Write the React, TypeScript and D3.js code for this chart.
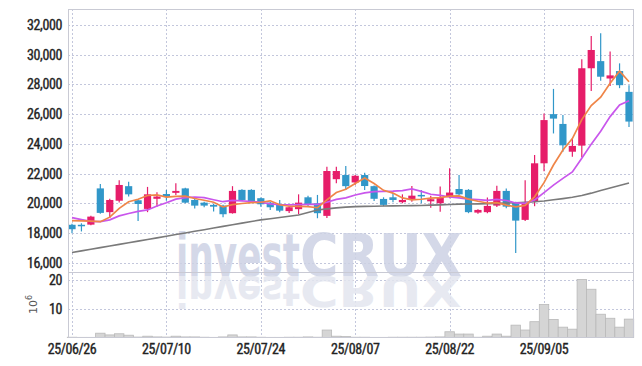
import React from "react";
import * as d3 from "d3";

const dates = [
  "25/06/26","25/06/27","25/06/30","25/07/01","25/07/02","25/07/03","25/07/04","25/07/07","25/07/08","25/07/09",
  "25/07/10","25/07/11","25/07/14","25/07/15","25/07/16","25/07/17","25/07/18","25/07/21","25/07/22","25/07/23",
  "25/07/24","25/07/25","25/07/28","25/07/29","25/07/30","25/07/31","25/08/01","25/08/04","25/08/05","25/08/06",
  "25/08/07","25/08/08","25/08/11","25/08/12","25/08/13","25/08/14","25/08/18","25/08/19","25/08/20","25/08/21",
  "25/08/22","25/08/25","25/08/26","25/08/27","25/08/28","25/08/29","25/09/01","25/09/02","25/09/03","25/09/04",
  "25/09/05","25/09/08","25/09/09","25/09/10","25/09/11","25/09/12","25/09/15","25/09/16","25/09/17","25/09/18",
];

const opens = [
  18550, 18550, 18560, 21000, 19400, 20170, 21150, 20200, 19620, 20300,
  20620, 20700, 21000, 20220, 20040, 19890, 19840, 19330, 20900, 20900,
  20340, 20040, 19930, 19470, 19600, 20400, 20000, 19150, 21620, 21900,
  21400, 21900, 21150, 20290, 20400, 20070, 20290, 20560, 20130, 20000,
  20450, 20960, 20900, 19370, 19400, 19840, 20830, 20040, 18880, 20110,
  22690, 26000, 25340, 23470, 23880, 29090, 29570, 28400, 28900, 27500,
];
const highs = [
  18620, 18650, 19150, 21300, 20300, 21550, 21450, 20250, 21100, 20740,
  20900, 21350, 21050, 20300, 20100, 19950, 19900, 21150, 20950, 20950,
  20380, 20080, 20220, 19800, 20600, 20500, 20560, 22450, 22450, 22500,
  21900, 22050, 21200, 20400, 20670, 20600, 21160, 20900, 20500, 21120,
  22360, 21900, 20950, 19600, 20380, 21180, 21000, 20100, 21550, 23250,
  26050, 27700, 25940, 24330, 29700, 31260, 31440, 30220, 29420, 27950,
];
const lows = [
  17980, 18100, 18520, 19300, 19000, 20050, 20450, 18800, 19400, 19770,
  20170, 20560, 20000, 19650, 19730, 19440, 19060, 19300, 20150, 20050,
  19770, 19550, 19400, 19350, 19260, 19800, 18990, 19000, 21350, 20900,
  21250, 20900, 20150, 19800, 20070, 20000, 20100, 20000, 19700, 19430,
  20340, 20550, 19330, 19300, 19330, 19750, 19660, 16650, 18800, 19800,
  22150, 24700, 23470, 23130, 23100, 27560, 28250, 27900, 27750, 25140,
];
const closes = [
  18250, 18450, 19100, 19350, 20220, 21230, 20600, 19950, 20600, 20450,
  20450, 20830, 20040, 19840, 19840, 19770, 19260, 20830, 20220, 20100,
  19930, 19730, 19500, 19730, 20040, 19890, 19330, 22170, 22170, 21150,
  21850, 21160, 20300, 19890, 20220, 20220, 20510, 20500, 20270, 20400,
  20720, 20600, 19400, 19550, 19820, 20830, 19770, 18830, 20040, 22690,
  25600, 25700, 23900, 23860, 29090, 30320, 28520, 28610, 27950, 25500,
];
// volume in millions of shares
const volumes = [
  0.1, 0.05, 0.05, 1.5, 0.9, 1.3, 0.8, 0.15, 0.45, 0.2,
  0.15, 0.45, 0.2, 0.2, 0.1, 0.05, 0.2, 0.9, 0.2, 0.2,
  0.1, 0.05, 0.05, 0.1, 0.1, 0.2, 0.1, 2.6, 0.45, 0.35,
  0.1, 0.1, 0.05, 0.05, 0.1, 0.1, 0.1, 0.1, 0.15, 0.2,
  2.0, 1.2, 1.2, 0.1, 0.45, 1.2, 0.45, 4.3, 2.6, 5.5,
  11.5, 6.3, 3.6, 2.9, 20.2, 16.8, 8.1, 6.7, 3.6, 6.4,
];
const ma5 = [
  18830, 18810, 18790, 18760, 19064, 19660, 20100, 20270, 20520, 20566,
  20410, 20456, 20474, 20322, 20200, 20064, 19750, 19908, 19984, 20036,
  20068, 20162, 19896, 19798, 19786, 19778, 19698, 20232, 20720, 20942,
  21334, 21700, 21326, 20870, 20684, 20358, 20228, 20268, 20344, 20380,
  20480, 20498, 20278, 20134, 20018, 20040, 19874, 19760, 19858, 20432,
  21386, 22572, 23586, 24350, 25630, 26574, 27138, 28080, 28898, 28180,
];
const ma10 = [
  19030, 18900, 18780, 18760, 18880, 19150, 19310, 19450, 19550, 19815,
  20035, 20278, 20372, 20421, 20383, 20237, 20103, 20191, 20153, 20118,
  20066, 19956, 19902, 19891, 19911, 19923, 19930, 20064, 20259, 20364,
  20556, 20699, 20779, 20795, 20813, 20846, 20964, 20797, 20607, 20532,
  20419, 20363, 20273, 20239, 20199, 20260, 20186, 20019, 19996, 20225,
  20713, 21223, 21673, 22104, 23031, 23980, 24855, 25833, 26624, 26905,
];
const ma60 = [
  16680, 16790, 16900, 17010, 17120, 17230, 17340, 17450, 17560, 17670,
  17780, 17890, 18000, 18110, 18220, 18330, 18440, 18550, 18660, 18770,
  18880, 18960, 19040, 19120, 19210, 19380, 19550, 19620, 19690, 19740,
  19770, 19790, 19800, 19810, 19820, 19830, 19840, 19850, 19870, 19890,
  19920, 19940, 19950, 19960, 19970, 19990, 20010, 20030, 20060, 20100,
  20150, 20230, 20310, 20400, 20520, 20680, 20860, 21020, 21190, 21360,
];

const priceTicks = [16000, 18000, 20000, 22000, 24000, 26000, 28000, 30000, 32000];
const volumeTicks = [10, 20];
const dateTicks = ["25/06/26", "25/07/10", "25/07/24", "25/08/07", "25/08/22", "25/09/05"];

const UP = "#e61d69";
const DOWN = "#3197c9";
const GRID = "#c3c7dc";
const FRAME = "#c9cad4";
const FONT = "'Liberation Sans Narrow', 'Roboto Condensed', 'Liberation Sans', sans-serif";

export default function App() {
  const W = 642, H = 366;
  const L = 68, R = 633, T = 9, MID = 272, B = 337.5;
  const x = d3.scalePoint<string>().domain(dates).range([72, 629]);
  const y = d3.scaleLinear().domain([15370, 33080]).range([MID, T]);
  const yv = d3.scaleLinear().domain([0, 22.8]).range([B, MID]);
  const fmt = d3.format(",");

  const line = (vals: number[]) =>
    d3.line<number>().x((_, i) => x(dates[i]) as number).y((v) => y(v))(vals) || "";

  const half = 4.72;

  return (
    <svg width={W} height={H} style={{ position: "absolute", left: 0, top: 0, background: "#fff" }}>
      {/* grid */}
      <g stroke={GRID} strokeWidth={1} strokeDasharray="2,2">
        {priceTicks.map((t) => (
          <line key={"p" + t} x1={L} x2={R} y1={Math.round(y(t)) + 0.5} y2={Math.round(y(t)) + 0.5} />
        ))}
        {volumeTicks.map((t) => (
          <line key={"v" + t} x1={L} x2={R} y1={Math.round(yv(t)) + 0.5} y2={Math.round(yv(t)) + 0.5} />
        ))}
        {dateTicks.map((d) => (
          <line key={"d" + d} x1={Math.round(x(d) as number) + 0.5} x2={Math.round(x(d) as number) + 0.5} y1={T} y2={B} />
        ))}
      </g>

      {/* watermark */}
      <g fontFamily="'DejaVu Sans', 'Liberation Sans', sans-serif" fontWeight="bold" fontSize={58}>
        <g fill="#cdd2e4" opacity={0.85}>
          <text x={176} y={276} textLength={124} lengthAdjust="spacingAndGlyphs">invest</text>
          <text x={300} y={276} textLength={162} lengthAdjust="spacingAndGlyphs">CRUX</text>
        </g>
        <g fill="#e3e6ef" opacity={0.85} transform="translate(0,276) scale(1,-0.72) translate(0,-276)">
          <text x={176} y={276} textLength={124} lengthAdjust="spacingAndGlyphs">invest</text>
          <text x={300} y={276} textLength={162} lengthAdjust="spacingAndGlyphs">CRUX</text>
        </g>
      </g>

      {/* volume bars */}
      <g fill="#d5d5d5" stroke="#b9b9b9" strokeWidth={0.8}>
        {volumes.map((v, i) => {
          const cx = x(dates[i]) as number;
          return <rect key={i} x={cx - half} width={half * 2} y={yv(v)} height={B - yv(v)} />;
        })}
      </g>

      {/* candles */}
      <g>
        {dates.map((d, i) => {
          const cx = x(d) as number;
          const o = opens[i], c = closes[i];
          const col = c >= o ? UP : DOWN;
          const top = y(Math.max(o, c));
          const bot = y(Math.min(o, c));
          return (
            <g key={d}>
              <line x1={cx} x2={cx} y1={y(highs[i])} y2={y(lows[i])} stroke={col} strokeWidth={1.2} />
              <rect x={cx - 3.6} width={7.2} y={top} height={Math.max(1.5, bot - top)} fill={col} />
            </g>
          );
        })}
      </g>

      {/* moving averages */}
      <path d={line(ma60)} fill="none" stroke="#7a7a7a" strokeWidth={1.6} />
      <path d={line(ma10)} fill="none" stroke="#c956ec" strokeWidth={1.7} />
      <path d={line(ma5)} fill="none" stroke="#ef8548" strokeWidth={1.7} />

      {/* frame */}
      <g stroke={FRAME} strokeWidth={1} fill="none">
        <line x1={L + 0.5} x2={L + 0.5} y1={T} y2={B} />
        <line x1={L} x2={R} y1={T + 0.5} y2={T + 0.5} />
        <line x1={R + 0.5} x2={R + 0.5} y1={T} y2={B} />
        <line x1={L} x2={R} y1={MID + 0.5} y2={MID + 0.5} />
        <line x1={L} x2={R} y1={B} y2={B} />
      </g>

      {/* labels */}
      <g fontFamily={FONT} fontSize={14} fill="#222" stroke="#222" strokeWidth={0.35} letterSpacing={-0.4}>
        {priceTicks.map((t) => (
          <text key={t} x={62} y={y(t)} dy="0.36em" textAnchor="end">{fmt(t)}</text>
        ))}
        {volumeTicks.map((t) => (
          <text key={t} x={62} y={yv(t)} dy="0.36em" textAnchor="end">{t}</text>
        ))}
        {dateTicks.map((d) => (
          <text key={d} x={x(d) as number} y={354} textAnchor="middle">{d}</text>
        ))}
      </g>
      <text transform="translate(37,314) rotate(-90)" fontFamily="'DejaVu Sans', sans-serif" fontSize={11} fill="#555">
        10<tspan dy={-5} fontSize={8}>6</tspan>
      </text>
    </svg>
  );
}
